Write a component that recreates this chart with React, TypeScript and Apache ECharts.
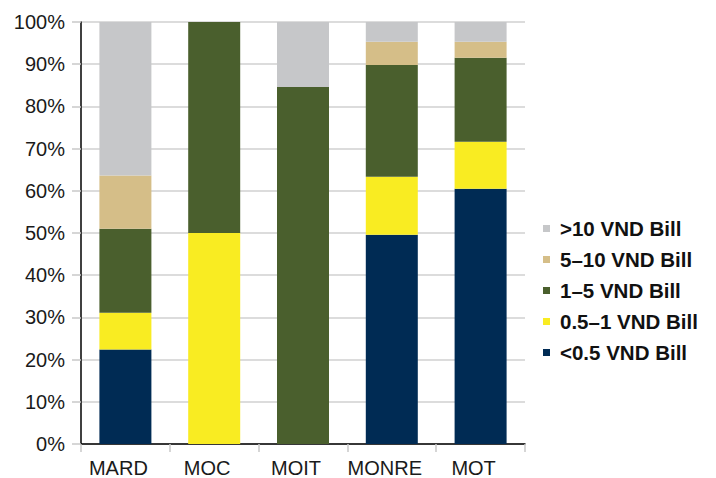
import React, { useEffect, useRef } from "react";
import * as echarts from "echarts";

const categories = ["MARD", "MOC", "MOIT", "MONRE", "MOT"];
const seriesNames = ["<0.5 VND Bill", "0.5–1 VND Bill", "1–5 VND Bill", "5–10 VND Bill", ">10 VND Bill"];
const under05 = [22.4, 0, 0, 49.6, 60.5];
const from05to1 = [8.7, 50, 0, 13.7, 11.1];
const from1to5 = [19.9, 50, 84.6, 26.5, 19.9];
const from5to10 = [12.6, 0, 0, 5.5, 3.8];
const over10 = [36.4, 0, 15.4, 4.7, 4.7];
const colors = ["#002B54", "#F9EC22", "#4A5F2D", "#D5BE88", "#C6C7C9"];
const yTicks = { min: 0, max: 100, interval: 10 };

const FONT = "'Liberation Sans', Arial, Helvetica, sans-serif";

export default function App() {
  const ref = useRef<HTMLDivElement>(null);
  useEffect(() => {
    document.body.style.margin = "0";
    if (!ref.current) return;
    const chart = echarts.init(ref.current, undefined, { renderer: "svg" });
    const values = [under05, from05to1, from1to5, from5to10, over10];
    chart.setOption({
      animation: false,
      backgroundColor: "#ffffff",
      textStyle: { fontFamily: FONT },
      grid: { left: 81, right: 191, top: 22, bottom: 34, containLabel: false },
      legend: {
        orient: "vertical",
        left: 538,
        top: 213,
        itemWidth: 7,
        itemHeight: 7,
        itemGap: 10,
        icon: "rect",
        data: [...seriesNames].reverse(),
        textStyle: {
          fontFamily: FONT,
          fontSize: 20.5,
          fontWeight: "bold",
          color: "#111111",
          padding: [0, 0, 0, 5],
        },
      },
      xAxis: {
        type: "category",
        data: categories,
        axisLine: { show: true, lineStyle: { color: "#000000", width: 1.5 } },
        axisTick: { show: true, length: 8, lineStyle: { color: "#c8c8c8", width: 1.5 } },
        axisLabel: {
          fontFamily: FONT,
          fontSize: 20,
          color: "#1a1a1a",
          margin: 14,
          interval: 0,
          padding: [0, 14, 0, 0],
        },
      },
      yAxis: {
        type: "value",
        min: yTicks.min,
        max: yTicks.max,
        interval: yTicks.interval,
        axisLine: { show: true, lineStyle: { color: "#000000", width: 1.5 } },
        axisTick: { show: true, length: 9, lineStyle: { color: "#c8c8c8", width: 1.5 } },
        axisLabel: { fontFamily: FONT, fontSize: 20, color: "#1a1a1a", margin: 16, formatter: "{value}%" },
        splitLine: { show: true, lineStyle: { color: "#d0d0d0", width: 1.5 } },
      },
      series: seriesNames.map((name, i) => ({
        name,
        type: "bar",
        stack: "total",
        barWidth: 52,
        data: values[i],
        itemStyle: { color: colors[i] },
      })),
    });
    return () => chart.dispose();
  }, []);
  return (
    <div
      ref={ref}
      style={{ width: 716, height: 478, position: "fixed", left: 0, top: 0 }}
    />
  );
}
